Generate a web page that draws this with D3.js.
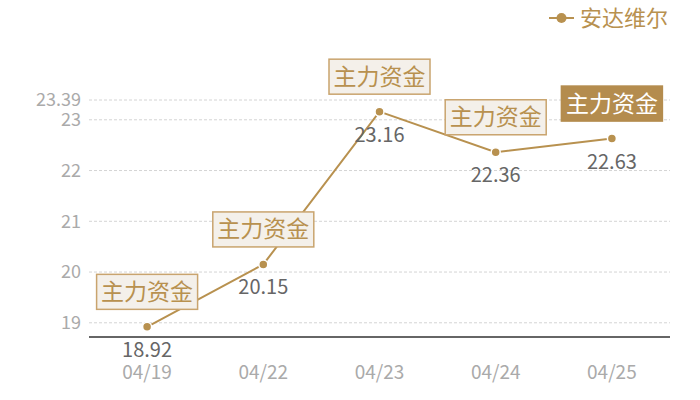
<!DOCTYPE html>
<html>
<head>
<meta charset="utf-8">
<script src="https://cdn.jsdelivr.net/npm/d3@7"></script>
<style>
  body { margin: 0; background: #fff; }
  text { font-family: "Noto Sans CJK SC", "Noto Sans", sans-serif; }
</style>
</head>
<body>
<svg id="chart" width="700" height="400"></svg>
<script>
// data
const dates = ['04/19', '04/22', '04/23', '04/24', '04/25']
const prices = [18.92, 20.15, 23.16, 22.36, 22.63]
const tagLabels = ['主力资金', '主力资金', '主力资金', '主力资金', '主力资金']
const tagActive = [false, false, false, false, true]
const yTicks = [19, 20, 21, 22, 23, 23.39]
const seriesName = '安达维尔'

const gold = '#b8914f'
const margin = { left: 89, right: 30, top: 100, bottom: 63 }
const width = 700, height = 400

const svg = d3.select('#chart')

const x = d3.scaleBand()
    .domain(dates)
    .range([margin.left, width - margin.right])

const y = d3.scaleLinear()
    .domain([18.72, 23.39])
    .range([height - margin.bottom, margin.top])

const cx = d => x(d) + x.bandwidth() / 2

// grid
svg.append('g')
    .selectAll('line')
    .data(yTicks)
    .enter().append('line')
    .attr('x1', margin.left)
    .attr('x2', width - margin.right)
    .attr('y1', d => y(d))
    .attr('y2', d => y(d))
    .style('stroke', '#d4d4d4')
    .style('stroke-dasharray', '3,2')
    .style('stroke-width', 1)

// y labels
svg.append('g')
    .selectAll('text')
    .data(yTicks)
    .enter().append('text')
    .attr('x', margin.left - 8)
    .attr('y', d => y(d))
    .attr('dy', '0.35em')
    .attr('text-anchor', 'end')
    .style('font-size', '18px')
    .style('fill', '#aaa')
    .text(d => d)

// x axis
svg.append('line')
    .attr('x1', margin.left)
    .attr('x2', width - margin.right)
    .attr('y1', height - margin.bottom)
    .attr('y2', height - margin.bottom)
    .style('stroke', '#333')
    .style('stroke-width', 1.5)

svg.append('g')
    .selectAll('text')
    .data(dates)
    .enter().append('text')
    .attr('x', d => cx(d))
    .attr('y', 372)
    .attr('dy', '0.35em')
    .attr('text-anchor', 'middle')
    .style('font-size', '19px')
    .style('fill', '#aaa')
    .text(d => d)

// line
const pts = dates.map((d, i) => ({ date: d, value: prices[i], tag: tagLabels[i], active: tagActive[i] }))

svg.append('path')
    .datum(pts)
    .attr('d', d3.line().x(d => cx(d.date)).y(d => y(d.value)))
    .style('fill', 'none')
    .style('stroke', gold)
    .style('stroke-width', 2)

svg.append('g')
    .selectAll('circle')
    .data(pts)
    .enter().append('circle')
    .attr('cx', d => cx(d.date))
    .attr('cy', d => y(d.value))
    .attr('r', 4.5)
    .style('fill', gold)
    .style('stroke', '#fff')
    .style('stroke-width', 1.5)

// value labels
svg.append('g')
    .selectAll('text')
    .data(pts)
    .enter().append('text')
    .attr('x', d => cx(d.date))
    .attr('y', d => y(d.value) + 23)
    .attr('dy', '0.35em')
    .attr('text-anchor', 'middle')
    .style('font-size', '20px')
    .style('fill', '#666')
    .text(d => d.value.toFixed(2))

// tags
const boxW = 101, boxH = 35
const tags = svg.append('g')
    .selectAll('g')
    .data(pts)
    .enter().append('g')
    .attr('transform', d => `translate(${cx(d.date)},${y(d.value) - 35})`)

tags.append('rect')
    .attr('x', -boxW / 2)
    .attr('y', -boxH / 2)
    .attr('width', boxW)
    .attr('height', boxH)
    .style('fill', d => d.active ? '#b48c4e' : '#f4f0ea')
    .style('stroke', d => d.active ? '#b48c4e' : '#c9a46e')
    .style('stroke-width', 1.5)

tags.append('text')
    .attr('dy', '0.35em')
    .attr('text-anchor', 'middle')
    .style('font-size', '23px')
    .style('fill', d => d.active ? '#fff' : gold)
    .text(d => d.tag)

// legend
const legend = svg.append('g').attr('transform', 'translate(549,18)')
legend.append('line')
    .attr('x1', 0).attr('x2', 25)
    .style('stroke', gold)
    .style('stroke-width', 2)
legend.append('circle')
    .attr('cx', 12.5)
    .attr('r', 5)
    .style('fill', gold)
legend.append('text')
    .attr('x', 31)
    .attr('dy', '0.35em')
    .style('font-size', '22px')
    .style('fill', gold)
    .text(seriesName)
</script>
</body>
</html>
